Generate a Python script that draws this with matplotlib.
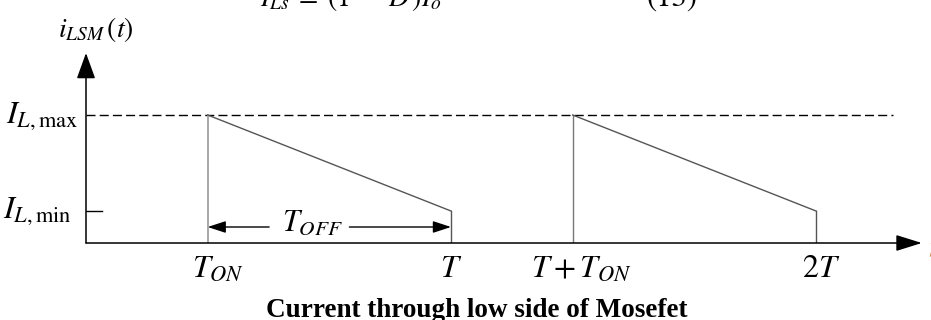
import matplotlib
matplotlib.use("Agg")
import matplotlib.pyplot as plt
import numpy as np

plt.rcParams['mathtext.fontset'] = 'stix'
plt.rcParams['font.family'] = ['Liberation Serif', 'DejaVu Serif']

# data (time in units of T, current normalised to I_L,max)
duty = 1/3
i_max = 1.0
i_min = 0.25
tick_pos = [duty, 1.0, 1.0 + duty, 2.0]
tick_labels = [r'$T_{ON}$', r'$T$', r'$T+T_{ON}$', r'$2T$']
periods = [0.0, 1.0]

W, H = 931, 320
fig = plt.figure(figsize=(W / 100, H / 100), dpi=100)
# axes placed so that the origin sits where the sketch has it
ax = fig.add_axes([86 / W, 77 / H, 2.3 * 365 / W, 1.5 * 128 / H])
ax.set_xlim(0, 2.3)
ax.set_ylim(0, 1.5)
ax.axis('off')

x_end = 2.29
y_end = 1.484

# axes with arrows
ax.annotate('', xy=(x_end, 0), xytext=(0, 0),
            arrowprops=dict(arrowstyle='-|>,head_length=1.6,head_width=0.5',
                            mutation_scale=10, lw=1.1, color='black',
                            shrinkA=0, shrinkB=0))
ax.annotate('', xy=(0, y_end), xytext=(0, 0),
            arrowprops=dict(arrowstyle='-|>,head_length=1.6,head_width=0.58',
                            mutation_scale=10, lw=1.1, color='black',
                            shrinkA=0, shrinkB=0))

# I_max dashed reference and I_min tick
ax.plot([0, 2.21], [i_max, i_max], color='black', lw=1, dashes=(6.5, 3))
ax.plot([0, 0.045], [i_min, i_min], color='black', lw=1)

# waveform, one ramp per period
vcol = ['#a8a8a8', '#777777']
for k, t0 in enumerate(periods):
    ax.plot([t0 + duty, t0 + duty], [0, i_max], color=vcol[k], lw=1.4 if k == 0 else 1.0)
    ax.plot([t0 + duty, t0 + 1], [i_max, i_min], color='#555555', lw=1.0)
    ax.plot([t0 + 1, t0 + 1], [i_min, 0], color='#555555', lw=1.0)

# T_OFF arrow, split around its label
y_arr = i_min / 2
x_lab = (duty + 1) / 2 - 0.045
gap_l, gap_r = x_lab - 0.12, x_lab + 0.10
for x_tip, x_from in [(duty, gap_l), (1.0, gap_r)]:
    ax.annotate('', xy=(x_tip, y_arr), xytext=(x_from, y_arr),
                arrowprops=dict(arrowstyle='-|>,head_length=1.1,head_width=0.36',
                                mutation_scale=10, lw=1.0, color='black',
                                shrinkA=0, shrinkB=0))
ax.annotate(r'$T_{OFF}$', xy=(x_lab, y_arr), xytext=(0, 4),
            textcoords='offset pixels', ha='center', va='center', fontsize=22)

# tick labels
dx = [10, 0, 9, 5]
for x, lab, off in zip(tick_pos, tick_labels, dx):
    ax.annotate(lab, xy=(x, 0), xytext=(off, -12), textcoords='offset pixels',
                ha='center', va='top', fontsize=23)

# y labels
ax.annotate(r'$I_{L,\mathrm{max}}$', xy=(0, i_max), xytext=(-8, -8),
            textcoords='offset pixels', ha='right', va='baseline', fontsize=23)
ax.annotate(r'$I_{L,\mathrm{min}}$', xy=(0, i_min), xytext=(-14, -7),
            textcoords='offset pixels', ha='right', va='baseline', fontsize=23)
ax.annotate(r'$i_{LSM}\,(t)$', xy=(0, y_end), xytext=(-28, 16),
            textcoords='offset pixels', ha='left', va='baseline', fontsize=20)
ax.annotate(r'$t$', xy=(x_end, 0), xytext=(6, -14), textcoords='offset pixels',
            ha='left', va='baseline', fontsize=22, color='#c07020',
            annotation_clip=False)

# equation cut off at the top and the caption
fig.text(260 / W, 1 - 6 / H, r'$I_{Ls}\;=\;(1\;-\;D\,)I_o$', ha='left',
         va='baseline', fontsize=20)
fig.text(647 / W, 1 - 6 / H, '(13)', ha='left', va='baseline', fontsize=22,
         family=['STIXGeneral', 'Liberation Serif'])
fig.text(477 / W, 3 / H, 'Current through low side of Mosefet', ha='center',
         va='baseline', fontsize=19.5, fontweight='bold')

fig.savefig('out.png', dpi=100)
